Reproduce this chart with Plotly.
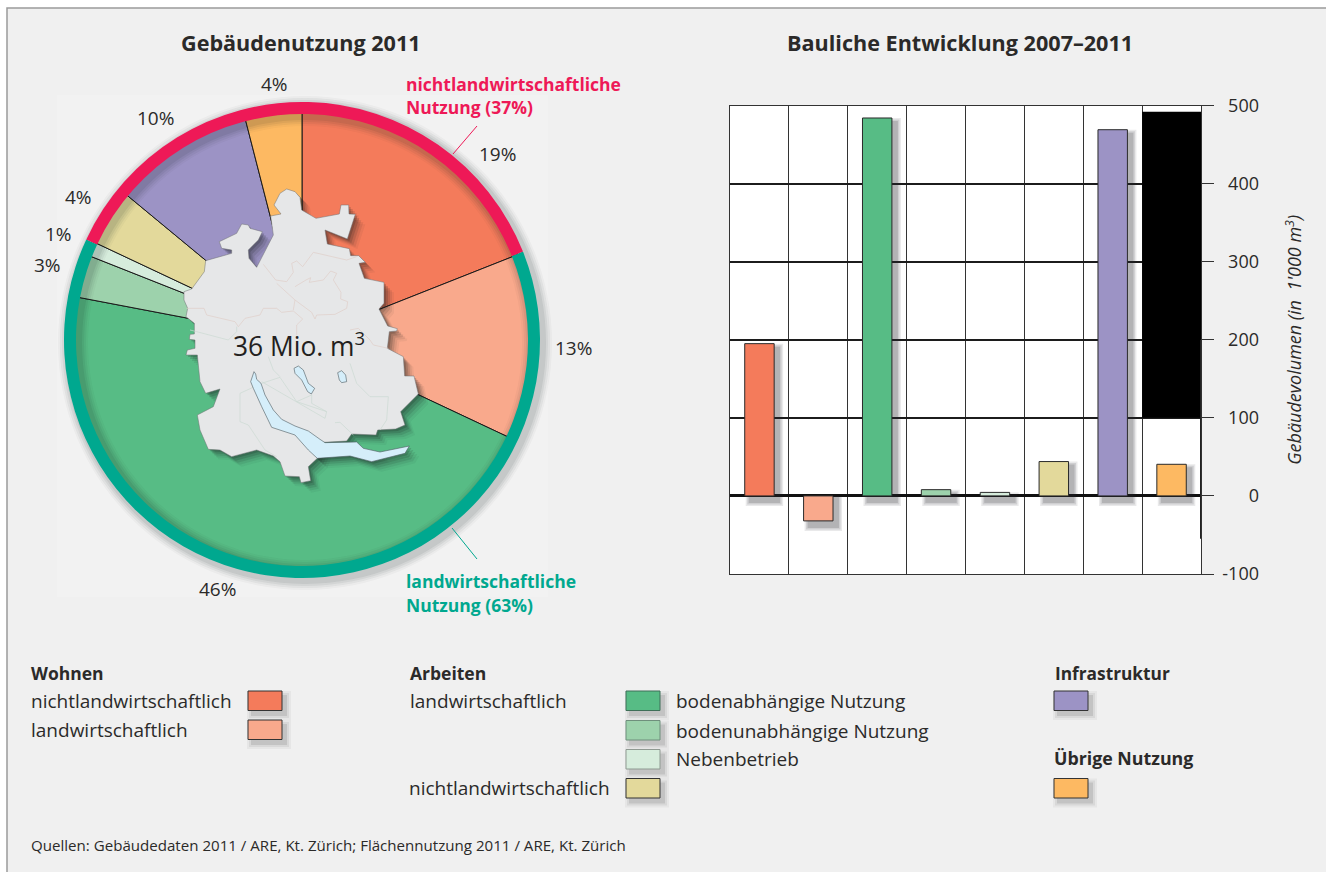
import math
import plotly.graph_objects as go

W, H = 1326, 872

# ---------- data ----------
pie_categories = ["Wohnen nichtlandwirtschaftlich", "Wohnen landwirtschaftlich",
                  "bodenabhängige Nutzung", "bodenunabhängige Nutzung", "Nebenbetrieb",
                  "Arbeiten nichtlandwirtschaftlich", "Infrastruktur", "Übrige Nutzung"]
pie_values = [19, 13, 46, 3, 1, 4, 10, 4]
ring_labels = ["landwirtschaftliche Nutzung", "nichtlandwirtschaftliche Nutzung"]
ring_values = [63, 37]
bar_values = [195, -32, 484, 8, 4.5, 44, 469, 40.5]
black_block_base = [100]
black_block_height = [392]
tick_values = [-100, 0, 100, 200, 300, 400, 500]
tick_labels = ["-100", "0", "100", "200", "300", "400", "500"]
colors = ["#F47B5B", "#F9A98C", "#57BC85", "#9DD2AC", "#D6ECDC", "#E3D99B", "#9C93C5", "#FDB962"]
ring_colors = ["#00A88F", "#EE1957"]

FONT = "Open Sans"
INK = "#2b2a29"

# ---------- helpers ----------
def pxx(x):
    return x / W

def pxy(y):
    return 1 - y / H

def path_from(pts, close=True):
    s = "M" + " L".join(f"{pxx(x):.5f},{pxy(y):.5f}" for x, y in pts)
    return s + (" Z" if close else "")

def crop(pts, ox, oy):
    return [(x / 3 + ox, y / 3 + oy) for x, y in pts]

def zoomed(pts):
    return crop(pts, 60, 90)

def domain_for(cx, cy, r):
    return dict(x=[pxx(cx - r), pxx(cx + r)], y=[pxy(cy + r), pxy(cy - r)])

shapes = []
annotations = []

def note(x, y, text, size=19, color=INK, anchor="left", bold=False):
    if bold:
        text = f"<b>{text}</b>"
    if anchor == "left":
        x -= 2
    annotations.append(dict(xref="paper", yref="paper", x=pxx(x), y=pxy(y), text=text,
                            showarrow=False, xanchor=anchor, yanchor="middle", align=anchor,
                            font=dict(family=FONT, size=size, color=color)))

def rect(x0, y0, x1, y1, fill, line=None, lw=1, layer="above"):
    shapes.append(dict(type="rect", xref="paper", yref="paper", x0=pxx(x0), x1=pxx(x1),
                       y0=pxy(y0), y1=pxy(y1), fillcolor=fill, layer=layer,
                       line=dict(color=line or "rgba(0,0,0,0)", width=lw if line else 0)))

def swatch(x, y, color, line="#333333"):
    for e, a in ((5, .05), (3, .08), (1, .12)):
        rect(x + 4 - e, y + 5 - e, x + 38 + e, y + 24 + e, f"rgba(50,50,50,{a})")
    rect(x, y, x + 34, y + 19.5, color, line)

# ---------- panel ----------
rect(7, 8, W + 5, H + 5, "#F0F0F0", "#9a9a9a", 1.5, "below")
rect(57, 95, 548, 597, "#F2F2F2", layer="below")
rect(730, 105.5, 1201, 574, "#FFFFFF", layer="below")

traces = []

# ---------- pie ----------
CX, CY = 302, 340
traces.append(go.Pie(labels=pie_categories, values=pie_values, sort=False, direction="clockwise",
                     rotation=0, domain=domain_for(CX, CY, 232), textinfo="none", hoverinfo="label+percent",
                     marker=dict(colors=colors, line=dict(color="#1a1a1a", width=1)), showlegend=False))
for e, a in ((7, .03), (5, .05), (3, .06), (1, .07)):
    ro, ri = 240 + e, 224 - e
    traces.append(go.Pie(values=[1], sort=False, hole=ri / ro, domain=domain_for(CX + 3, CY + 3, ro),
                         textinfo="none", hoverinfo="skip", showlegend=False,
                         marker=dict(colors=[f"rgba(20,30,30,{a})"], line=dict(width=0))))
traces.append(go.Pie(labels=ring_labels, values=ring_values, sort=False, direction="clockwise",
                     rotation=68.2, hole=226 / 238, domain=domain_for(CX, CY, 238), textinfo="none",
                     hoverinfo="label+percent", showlegend=False,
                     marker=dict(colors=ring_colors, line=dict(width=0))))

# percent labels placed radially from the slice values
label_angle_shift = [12.3, 0, 0.6, 0, 0, 0, -1.2, 1.0]
label_radius = [269, 272, 264, 265, 265, 265, 265, 257]
cum = 0
for v, da, rr in zip(pie_values, label_angle_shift, label_radius):
    mid = math.radians((cum + v / 2) * 3.6 + da)
    cum += v
    note(CX + rr * math.sin(mid), CY - rr * math.cos(mid) - 1, f"{v}%", 19, anchor="center")

# ---------- map illustration ----------
canton = zoomed([
    (680,297),(705,305),(720,322),(725,360),(768,385),(838,372),(843,345),(866,345),(867,372),(886,373),
    (862,447),(795,420),(802,462),(868,476),(872,497),(896,497),(916,517),(897,520),(913,565),(972,577),
    (972,640),(957,657),(983,708),(1012,716),(1010,723),(988,725),(982,775),(1030,800),(1034,858),(1062,858),
    (1075,912),(1022,965),(1035,1005),(1007,1017),(953,1020),(948,1035),(875,1032),(860,1053),(790,1057),
    (772,1105),(745,1130),(752,1172),(723,1178),(718,1160),(675,1158),(660,1115),(640,1098),(590,1080),
    (515,1100),(480,1080),(445,1078),(420,1020),(412,975),(460,950),(480,897),(437,910),(420,875),(412,795),
    (378,795),(382,780),(405,775),(405,750),(388,748),(390,733),(403,732),(403,700),(378,680),(383,655),
    (372,630),(372,605),(395,597),(433,545),(437,512),(515,490),(515,480),(485,475),(478,455),(530,430),
    (545,402),(565,405),(570,415),(607,425),(595,450),(565,480),(567,505),(590,532),(640,435),(632,378),
    (663,372),(642,345),(660,310)])
lake = crop([
    (42,65),(47,72),(50,88),(63,100),(75,135),(100,180),(125,208),(165,228),(205,243),(240,268),(255,278),
    (350,276),(370,295),(420,306),(508,288),(495,310),(395,335),(330,318),(232,325),(205,300),(165,255),
    (95,232),(65,170),(40,115),(32,95)], 240, 350)
ponds = [crop([(162,55),(175,48),(190,60),(205,100),(224,115),(214,132),(203,125),(185,90),(165,70)], 240, 350),
         crop([(293,68),(305,62),(317,75),(320,95),(305,98),(298,90)], 240, 350)]
borders_pink = [
    [(250,238),(287,285),(320,290),(340,262),(335,235),(350,228),(368,245),(400,202),(500,225),(530,215)],
    [(345,305),(378,285),(392,278),(388,292),(430,285),(452,258),(470,265),(460,285),(483,322),(482,342),
     (503,350),(500,370),(465,388),(410,390),(405,402),(395,382),(345,345),(340,375)],
    [(345,345),(290,295)],
    [(20,370),(72,370),(80,390),(165,410),(175,425),(195,400),(240,390),(250,370),(290,370),(305,382),(340,378),
     (368,402),(350,420),(350,450)],
    [(510,435),(535,430),(570,465),(580,480),(625,490)],
]
borders_green_lower = [
    [(0,130),(65,100),(120,82),(170,155),(215,135),(215,160),(260,185),(255,205),(65,95)],
    [(170,155),(260,185)],
    [(85,20),(100,60),(120,80)],
    [(330,40),(350,100),(390,140),(445,140),(440,210),(420,240)],
    [(285,218),(300,217),(340,255)],
    [(0,130),(0,215),(25,225),(75,300),(110,320)],
]
borders_green_upper = [[(170,425),(170,440),(145,465),(50,440),(30,435)]]

def poly(pts, fill, line=None, lw=0.6, close=True, dx=0, dy=0):
    shapes.append(dict(type="path", xref="paper", yref="paper", layer="above",
                       path=path_from([(x + dx, y + dy) for x, y in pts], close),
                       fillcolor=fill if close else "rgba(0,0,0,0)",
                       line=dict(color=line or "rgba(0,0,0,0)", width=lw if line else 0)))

for d, a in ((10, .05), (8, .08), (6, .12), (4, .16), (2, .2)):
    poly(canton, f"rgba(25,30,30,{a})", dx=d, dy=d)
    poly(lake, f"rgba(25,30,30,{a})", dx=d, dy=d)
poly(canton, "#E6E7E8", "#6f7172", 0.5)
for b in borders_pink:
    poly(crop(b, 180, 185), "", "#E0CFC8", 0.7, close=False)
for b in borders_green_upper:
    poly(crop(b, 180, 185), "", "#CBDAD2", 0.7, close=False)
for b in borders_green_lower:
    poly(crop(b, 240, 350), "", "#CBDAD2", 0.7, close=False)
poly(lake, "#D5EEFA", "#4d5a60", 0.6)
for p in ponds:
    poly(p, "#D5EEFA", "#4d5a60", 0.6)

# leader lines
poly([(477, 126), (453, 154)], "", "#EE1957", 1, close=False)
poly([(452, 528), (477, 559)], "", "#00A88F", 1, close=False)

# ---------- bars ----------
PX_Y = 100 / 78.1
PX_X = 1 / 58.9
BW = 0.5
for e, a in ((4, .10), (2.5, .13), (1, .17)):
    tops = [(v - 4 * PX_Y + e * PX_Y) if v > 0 else 0 for v in bar_values]
    bots = [(-6 * PX_Y - e * PX_Y) if v > 0 else v - 6 * PX_Y - e * PX_Y for v in bar_values]
    traces.append(go.Bar(x=pie_categories, y=[t - b for t, b in zip(tops, bots)], base=bots,
                         width=BW + 2 * e * PX_X, offset=-BW / 2 + 5 * PX_X - e * PX_X,
                         marker=dict(color=f"rgba(40,40,50,{a})", line=dict(width=0)),
                         hoverinfo="skip", showlegend=False))
traces.append(go.Bar(x=pie_categories[-1:], y=black_block_height, base=black_block_base, width=1,
                     marker=dict(color="#000000", line=dict(width=0)), hoverinfo="skip", showlegend=False))
traces.append(go.Bar(x=pie_categories, y=bar_values, width=BW, showlegend=False,
                     marker=dict(color=colors, line=dict(color="#2a2a2a", width=1))))
# carries the right-aligned tick labels
traces.append(go.Scatter(x=[0] * len(tick_values), y=tick_values, xaxis="x2", yaxis="y2", mode="markers",
                         marker=dict(opacity=0), hoverinfo="skip", showlegend=False))

shapes.append(dict(type="line", xref="x", yref="y", x0=7.5, x1=7.5, y0=-55, y1=200, layer="above",
                   line=dict(color="#222222", width=2)))

# ---------- text ----------
note(301, 43, "Gebäudenutzung 2011", 21.6, anchor="center", bold=True)
note(959.5, 43, "Bauliche Entwicklung 2007–2011", 21.6, anchor="center", bold=True)
note(406, 84, "nichtlandwirtschaftliche", 17.5, "#EE1957", bold=True)
note(406, 107, "Nutzung (37%)", 17.5, "#EE1957", bold=True)
note(406, 581, "landwirtschaftliche", 17.5, "#00A88F", bold=True)
note(406, 605, "Nutzung (63%)", 17.5, "#00A88F", bold=True)
note(299, 344, "36 Mio. m<sup>3</sup>", 26.4, "#231f20", anchor="center")

note(31, 673, "Wohnen", 17.5, bold=True)
note(31, 701, "nichtlandwirtschaftlich", 19)
note(31, 730, "landwirtschaftlich", 19)
note(410, 673, "Arbeiten", 17.5, bold=True)
note(410, 701, "landwirtschaftlich", 19)
note(409, 788, "nichtlandwirtschaftlich", 19)
note(676, 701, "bodenabhängige Nutzung", 19)
note(676, 731, "bodenunabhängige Nutzung", 19)
note(676, 759, "Nebenbetrieb", 19)
note(1055, 673, "Infrastruktur", 17.3, bold=True)
note(1054, 758, "Übrige Nutzung", 17.8, bold=True)
note(31, 845, "Quellen: Gebäudedaten 2011 / ARE, Kt. Zürich; Flächennutzung 2011 / ARE, Kt. Zürich", 15.1)

swatch(248, 691, colors[0])
swatch(248, 720, colors[1])
swatch(626, 691, colors[2], "#3f6f58")
swatch(626, 720.5, colors[3], "#6f8f7c")
swatch(626, 749.5, colors[4], "#8f9a92")
swatch(626, 778.5, colors[5])
swatch(1054, 691, colors[6])
swatch(1054, 778.5, colors[7])

# ---------- layout ----------
Y0, Y1 = pxy(574), pxy(105.5)
EXT = 39.05 / H
fig = go.Figure(traces)
fig.update_layout(
    width=W, height=H, autosize=False, margin=dict(l=0, r=0, t=0, b=0), paper_bgcolor="#FFFFFF",
    plot_bgcolor="rgba(0,0,0,0)", barmode="overlay", showlegend=False, shapes=shapes, annotations=annotations,
    font=dict(family=FONT, color=INK),
    xaxis=dict(domain=[pxx(730), pxx(1201)], type="category", categoryorder="array", categoryarray=pie_categories,
               range=[-0.5, 7.5], tickson="boundaries", showticklabels=False, ticks="", showgrid=True,
               gridcolor="#333333", gridwidth=1, zeroline=False, showline=True, mirror=True,
               linecolor="#333333", linewidth=1, anchor="y"),
    yaxis=dict(domain=[Y0, Y1], range=[-100, 500], side="right", anchor="x", tickvals=tick_values,
               ticktext=tick_labels, showticklabels=False, ticks="outside", ticklen=12, tickcolor="#333333",
               tickwidth=1, showgrid=True, gridcolor="#1c1c1c", gridwidth=2, zeroline=True, zerolinecolor="#111111",
               zerolinewidth=2.5, showline=True, mirror=True, linecolor="#333333", linewidth=1,
               title=dict(text="<i>Gebäudevolumen (in  1'000 m<sup>3</sup>)</i>", standoff=75,
                          font=dict(family=FONT, size=18, color=INK))),
    xaxis2=dict(domain=[pxx(1205), pxx(1262)], anchor="y2", visible=False),
    yaxis2=dict(domain=[Y0 - EXT, Y1 + EXT], range=[-150, 550], side="right", anchor="x2",
                tickvals=tick_values, ticktext=tick_labels, ticklabelposition="inside",
                showgrid=False, zeroline=False, showline=False, ticks="",
                tickfont=dict(family=FONT, size=18, color=INK)),
)
fig.write_html("out.html", config=dict(displayModeBar=False),
               post_script="document.body.style.margin='0';document.documentElement.style.overflow='hidden';")
